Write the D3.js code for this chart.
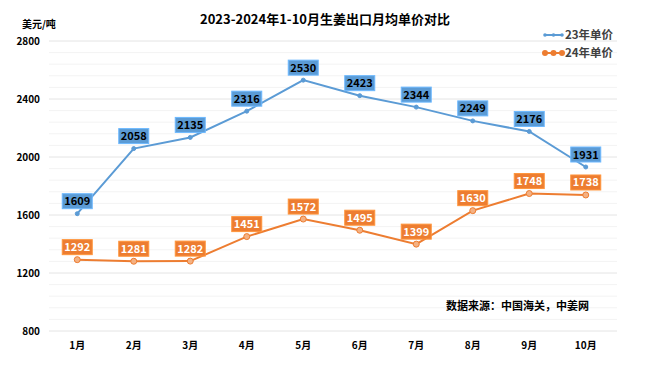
<!DOCTYPE html>
<html>
<head>
<meta charset="utf-8">
<script src="https://cdn.jsdelivr.net/npm/d3@7"></script>
<style>
  body { margin: 0; background: #fff; }
  svg text { font-family: "Noto Sans CJK SC", "Noto Sans", sans-serif; }
</style>
</head>
<body>
<svg width="650" height="365"></svg>
<script>
var months = ["1月", "2月", "3月", "4月", "5月", "6月", "7月", "8月", "9月", "10月"];
var price23 = [1609, 2058, 2135, 2316, 2530, 2423, 2344, 2249, 2176, 1931];
var price24 = [1292, 1281, 1282, 1451, 1572, 1495, 1399, 1630, 1748, 1738];
var yTicks = [800, 1200, 1600, 2000, 2400, 2800];

var blue = "#5b9bd5", orange = "#ed7d31";

var svg = d3.select("svg"),
    plotLeft = 49, plotRight = 614,
    plotTop = 41, plotBottom = 331;

var x = d3.scaleBand().domain(months).range([plotLeft, plotRight]);
var y = d3.scaleLinear().domain([800, 2800]).range([plotBottom, plotTop]);

function cx(i) { return x(months[i]) + x.bandwidth() / 2; }

// minor grid every 80, major every 400
var minor = d3.range(800, 2801, 80);
svg.append("g").selectAll("line")
  .data(minor)
  .enter().append("line")
  .attr("x1", plotLeft).attr("x2", plotRight + 3)
  .attr("y1", function(d) { return y(d); })
  .attr("y2", function(d) { return y(d); })
  .attr("stroke", function(d) { return d % 400 === 0 ? "#e4e4e4" : "#f3f3f3"; })
  .attr("stroke-width", 1);

svg.append("g").selectAll("text")
  .data(yTicks)
  .enter().append("text")
  .attr("x", 40).attr("y", function(d) { return y(d) + 4; })
  .attr("text-anchor", "end")
  .attr("font-size", 10).attr("font-weight", "bold")
  .text(function(d) { return d; });

svg.append("g").selectAll("text")
  .data(months)
  .enter().append("text")
  .attr("x", function(d, i) { return cx(i); })
  .attr("y", 349)
  .attr("text-anchor", "middle")
  .attr("font-size", 10).attr("font-weight", "bold")
  .text(function(d) { return d; });

svg.append("text")
  .attr("x", 325).attr("y", 24)
  .attr("text-anchor", "middle")
  .attr("font-size", 13).attr("font-weight", "bold")
  .text("2023-2024年1-10月生姜出口月均单价对比");

svg.append("text")
  .attr("x", 22).attr("y", 28)
  .attr("font-size", 10).attr("font-weight", "bold")
  .text("美元/吨");

svg.append("text")
  .attr("x", 589).attr("y", 310)
  .attr("text-anchor", "end")
  .attr("font-size", 11).attr("font-weight", "bold")
  .text("数据来源：中国海关，中姜网");

var line = d3.line()
  .x(function(d, i) { return cx(i); })
  .y(function(d) { return y(d); });

function drawSeries(values, color, markerR, markerFill, textColor) {
  var g = svg.append("g");
  g.append("path")
    .attr("d", line(values))
    .attr("fill", "none")
    .attr("stroke", color)
    .attr("stroke-width", 2);
  g.selectAll("circle")
    .data(values)
    .enter().append("circle")
    .attr("cx", function(d, i) { return cx(i); })
    .attr("cy", function(d) { return y(d); })
    .attr("r", markerR)
    .attr("fill", markerFill)
    .attr("stroke", color)
    .attr("stroke-width", 1);
  var lab = g.selectAll("g.lab")
    .data(values)
    .enter().append("g")
    .attr("transform", function(d, i) {
      return "translate(" + cx(i) + "," + (y(d) - 12.5) + ")";
    });
  lab.append("rect")
    .attr("x", -15).attr("y", -7.5)
    .attr("width", 30).attr("height", 15)
    .attr("fill", color)
    .attr("stroke", d3.color(color).brighter(0.5))
    .attr("stroke-width", 1);
  lab.append("text")
    .attr("y", 4)
    .attr("text-anchor", "middle")
    .attr("font-size", 11).attr("font-weight", "bold")
    .attr("fill", textColor)
    .text(function(d) { return d; });
}

drawSeries(price23, blue, 2, blue, "#000");
drawSeries(price24, orange, 3, "#f4b183", "#fff");

// legend
var legend = [
  { name: "23年单价", color: blue, r: 1.8, y: 35 },
  { name: "24年单价", color: orange, r: 3, y: 53 }
];
var lg = svg.append("g").selectAll("g")
  .data(legend)
  .enter().append("g")
  .attr("transform", function(d) { return "translate(545," + d.y + ")"; });
lg.append("line")
  .attr("x1", 0).attr("x2", 17)
  .attr("stroke", function(d) { return d.color; })
  .attr("stroke-width", 2);
lg.selectAll("circle")
  .data(function(d) { return [0, 8.5, 17].map(function(p) { return { p: p, d: d }; }); })
  .enter().append("circle")
  .attr("cx", function(e) { return e.p; })
  .attr("r", function(e) { return e.d.r; })
  .attr("fill", function(e) { return e.d.color; });
lg.append("text")
  .attr("x", 20).attr("y", 4)
  .attr("font-size", 11.5).attr("font-weight", "bold")
  .attr("fill", "#404040")
  .text(function(d) { return d.name; });
</script>
</body>
</html>
